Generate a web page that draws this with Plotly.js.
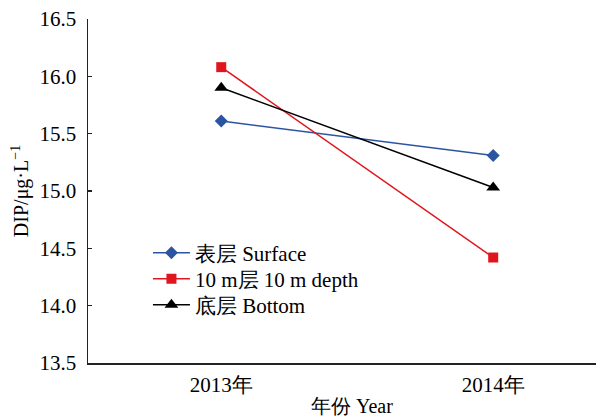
<!DOCTYPE html>
<html>
<head>
<meta charset="utf-8">
<script src="https://cdn.plot.ly/plotly-3.0.1.min.js"></script>
<style>
  html, body { margin: 0; padding: 0; background: #fff; }
  #chart { width: 596px; height: 416px; }
</style>
</head>
<body>
<div id="chart"></div>
<script>
// DIP concentration (μg·L⁻¹) by layer, 2013 vs 2014
const years = ['2013年', '2014年'];
const surface = [15.61, 15.31];
const depth10m = [16.08, 14.42];
const bottom = [15.90, 15.03];
const seriesNames = ['表层 Surface', '10 m层 10 m depth', '底层 Bottom'];
const yTicks = [13.5, 14.0, 14.5, 15.0, 15.5, 16.0, 16.5];

const FONT = "'Liberation Serif', serif";

const traces = [
  {
    x: years, y: surface, name: seriesNames[0], type: 'scatter', mode: 'lines+markers',
    legend: 'legend',
    line: { color: '#2b55a3', width: 1.5 },
    marker: { symbol: 'diamond', size: 10, color: '#2b55a3' }
  },
  {
    x: years, y: depth10m, name: seriesNames[1], type: 'scatter', mode: 'lines+markers',
    legend: 'legend2',
    line: { color: '#e0161f', width: 1.5 },
    marker: { symbol: 'square', size: 10, color: '#e0161f' }
  },
  {
    x: years, y: bottom, name: seriesNames[2], type: 'scatter', mode: 'lines+markers',
    legend: 'legend3',
    line: { color: '#000000', width: 1.5 },
    marker: { symbol: 'triangle-up', size: 12, color: '#000000' }
  }
];

// one legend box per series so the rows can be spaced freely
function legendAt(yPaper) {
  return {
    x: 0.118, y: yPaper, xanchor: 'left', yanchor: 'middle',
    bgcolor: 'rgba(0,0,0,0)', font: { family: FONT, size: 21 },
    itemwidth: 37
  };
}
const toPaperY = px => (363 - px) / 344;

const layout = {
  width: 596, height: 416,
  margin: { l: 88, r: 0, t: 19, b: 53 },
  paper_bgcolor: '#fff', plot_bgcolor: '#fff',
  font: { family: FONT, size: 20, color: '#000' },
  showlegend: true,
  legend: legendAt(toPaperY(253)),
  legend2: legendAt(toPaperY(279)),
  legend3: legendAt(toPaperY(305)),
  xaxis: {
    type: 'category', range: [-0.49, 1.378],
    showline: true, linecolor: '#222', linewidth: 1.5,
    showgrid: false, zeroline: false, ticks: '',
    ticklabelstandoff: 2,
    tickfont: { family: FONT, size: 21 }
  },
  yaxis: {
    range: [13.5, 16.5], tickvals: yTicks,
    ticktext: yTicks.map(v => v.toFixed(1)),
    showline: true, linecolor: '#222', linewidth: 1.5,
    showgrid: false, zeroline: false,
    ticks: 'inside', ticklen: 4, tickcolor: '#222', tickwidth: 1.2,
    ticklabelstandoff: 6,
    tickfont: { family: FONT, size: 21 },
    title: { text: 'DIP/μg·L<sup>−1</sup>', font: { family: FONT, size: 20 }, standoff: 5 }
  },
  annotations: [{
    text: '年份 Year', xref: 'paper', yref: 'paper',
    x: 0.52, y: toPaperY(406), xanchor: 'center', yanchor: 'middle',
    showarrow: false, font: { family: FONT, size: 20 }
  }]
};

Plotly.newPlot('chart', traces, layout, { displayModeBar: false, staticPlot: true });
</script>
</body>
</html>
